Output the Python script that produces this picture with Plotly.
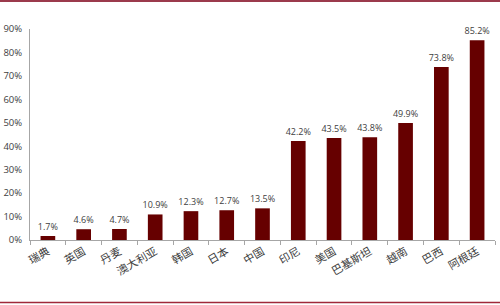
import plotly.graph_objects as go

categories = ["瑞典", "英国", "丹麦", "澳大利亚", "韩国", "日本", "中国", "印尼", "美国", "巴基斯坦", "越南", "巴西", "阿根廷"]
values = [1.7, 4.6, 4.7, 10.9, 12.3, 12.7, 13.5, 42.2, 43.5, 43.8, 49.9, 73.8, 85.2]
ytick_vals = [0, 10, 20, 30, 40, 50, 60, 70, 80, 90]
ytick_text = [f"{v}%" for v in ytick_vals]

W, H = 500, 305
ml, mr, mt, mb = 30, 5, 29, 65

fig = go.Figure(go.Bar(
    x=categories, y=values,
    marker=dict(color="#660000", line=dict(width=0)),
    text=[f"{v:.1f}%" for v in values],
    textposition="outside",
    constraintext="none",
    textfont=dict(size=9, color="#404040", family="Open Sans"),
    cliponaxis=False,
))

fig.update_layout(
    width=W, height=H,
    margin=dict(l=ml, r=mr, t=mt, b=mb, autoexpand=False),
    plot_bgcolor="white", paper_bgcolor="white",
    bargap=0.59,
    showlegend=False,
    font=dict(family="Open Sans", color="#404040"),
    xaxis=dict(
        showline=True, linecolor="#a6a6a6", linewidth=1,
        ticks="outside", ticklen=4, tickcolor="#a6a6a6",
        tickson="boundaries",
        tickangle=-30,
        tickfont=dict(size=11, family="Noto Sans CJK SC", color="#404040"),
        showgrid=False, automargin=False,
    ),
    yaxis=dict(
        range=[0, 90],
        tickvals=ytick_vals, ticktext=ytick_text,
        showline=True, linecolor="#a6a6a6", linewidth=1,
        showgrid=False, zeroline=False,
        tickfont=dict(size=9.5, color="#404040"),
        ticks="", ticklabelstandoff=5, automargin=False,
    ),
    shapes=[
        dict(type="line", xref="paper", yref="paper",
             x0=-ml / (W - ml - mr), x1=1 + mr / (W - ml - mr),
             y0=1 + (mt - 1) / (H - mt - mb), y1=1 + (mt - 1) / (H - mt - mb),
             line=dict(color="#9b3a4c", width=2)),
        dict(type="line", xref="paper", yref="paper",
             x0=-ml / (W - ml - mr), x1=1 + mr / (W - ml - mr),
             y0=-(mb - 2.5) / (H - mt - mb), y1=-(mb - 2.5) / (H - mt - mb),
             line=dict(color="#a0283a", width=1.5)),
    ],
)

fig.write_html("out.html")
